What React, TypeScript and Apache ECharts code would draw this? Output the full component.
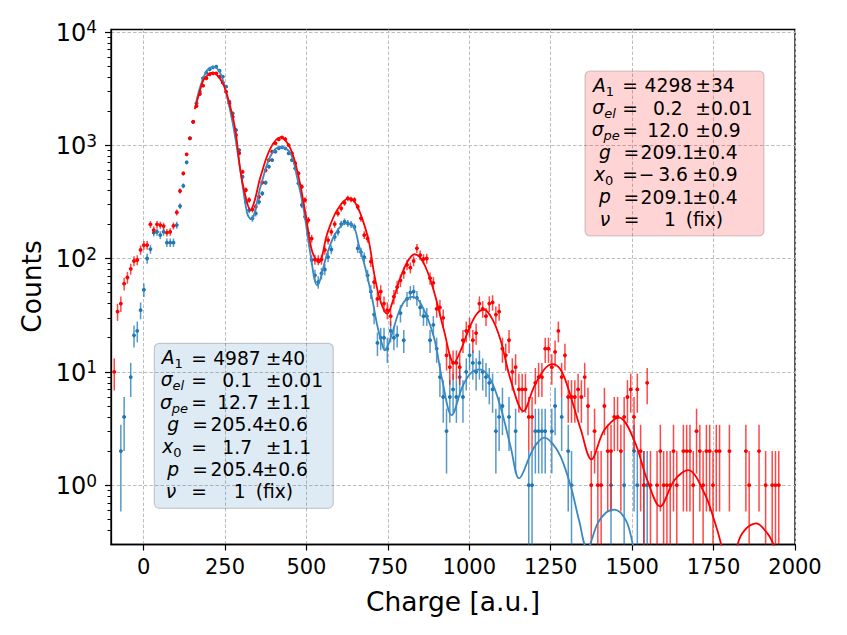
import React, { useEffect, useRef } from 'react';
import * as echarts from 'echarts';

// ---------------- data ----------------
const BIN_START = -90;
const BIN_WIDTH = 10.1;
const X_ERR = 5;

const RED_COUNTS = [
  10, 34, 40, 60, 68, 81, 95, 97, 119, 131,
  131, 200, 178, 200, 197, 193, 169, 172, 194, 255,
  394, 563, 829, 1148, 1610, 2213, 2825, 3343, 3890, 4217,
  4300, 4300, 4017, 3556, 2960, 2339, 1782, 1227, 850, 582,
  402, 328, 271, 286, 350, 469, 600, 738, 875, 1038,
  1125, 1172, 1132, 1000, 847, 692, 564, 430, 328, 218,
  150, 98, 97, 98, 119, 145, 172, 201, 250, 277,
  310, 339, 332, 328, 286, 226, 161, 150, 94, 62,
  44, 51, 40, 35, 31, 46, 56, 64, 75, 88,
  83, 95, 123, 107, 99, 100, 67, 61, 36, 37,
  30, 14, 11, 12, 12, 11, 19, 23, 25, 19,
  22, 40, 36, 31, 40, 41, 32, 34, 16, 14,
  19, 10, 11, 7, 7, 7, 4, 4, 8, 9,
  9, 16, 16, 11, 15, 23, 9, 14, 6, 6,
  6, 7, 6, 9, 5, 1, 3, 1, 1, 5,
  2, 2, 4, 4, 2, 4, 6, 7, 4, 7,
  2, 1, 8, 1, 0, 1, 2, 1, 1, 1,
  2, 1, 0, 2, 2, 2, 1, 3, 2, 1,
  2, 2, 1, 2, 2, 0, 0, 2, 0, 0,
  0, 0, 2, 1, 0, 0, 2, 0, 1, 0,
  1, 1, 1,
];

const BLUE_COUNTS = [
  0, 0, 2, 4, 0, 9, 21, 23, 35, 53,
  100, 121, 169, 172, 161, 172, 138, 138, 138, 197,
  290, 438, 705, 1150, 1600, 2339, 2960, 3890, 4355, 4670,
  4860, 4920, 4540, 4017, 3280, 2415, 1910, 1360, 905, 526,
  316, 267, 226, 250, 316, 375, 466, 645, 738, 875,
  937, 956, 937, 847, 738, 624, 460, 296, 234, 167,
  97, 71, 62, 74, 80, 103, 120, 155, 172, 201,
  211, 204, 200, 190, 123, 114, 103, 71, 51, 32,
  18, 20, 20, 16, 23, 20, 21, 33, 19, 44,
  50, 51, 45, 37, 31, 31, 19, 26, 16, 9,
  6, 3, 6, 7, 6, 9, 6, 10, 14, 12,
  10, 12, 10, 9, 8, 7, 3, 4, 5, 0,
  4, 0, 3, 0, 0, 0, 1, 1, 3, 3,
  3, 3, 0, 3, 5, 0, 4, 0, 2, 1,
  0, 0, 0, 0, 0, 0, 0, 0, 0, 0,
  0, 1, 0, 0, 0, 1, 0, 0, 2, 1,
  0, 1, 1,
];

const RED_FIT_X = [157, 170, 184, 200, 210, 225, 246, 266, 282, 297, 312, 328, 340, 359, 389, 420, 451, 476, 497, 517, 538, 564, 594, 630, 651, 671, 692, 707, 722, 738, 748, 763, 784, 810, 832, 860, 891, 922, 953, 975, 994, 1020, 1045, 1070, 1096, 1127, 1166, 1199, 1230, 1255, 1280, 1302, 1343, 1375, 1414, 1460, 1506, 1547, 1586, 1629, 1672, 1722, 1752, 1773, 1800, 1824, 1845, 1881, 1917, 1934, 1950];
const RED_FIT_Y = [2070, 2818, 3758, 4217, 4365, 4169, 3388, 2188, 1349, 603, 363, 267, 316, 525, 933, 1172, 933, 525, 251, 117, 92, 166, 267, 339, 306, 226, 140, 76, 47.5, 35, 32.7, 40.2, 62.4, 93.5, 109, 91, 52, 23.4, 12, 15.8, 21.9, 31.6, 35.5, 29.5, 19.1, 8.5, 4.5, 7.4, 10.5, 11.7, 10.5, 7.4, 3.05, 1.69, 3.05, 3.95, 2.5, 1.1, 0.65, 1.1, 1.36, 0.85, 0.49, 0.3, 0.11, 0.3, 0.4, 0.46, 0.37, 0.3, 0.22];

const BLUE_FIT_X = [161, 174, 195, 215, 236, 256, 276, 297, 318, 330, 359, 389, 420, 451, 471, 492, 512, 533, 564, 589, 620, 645, 661, 681, 702, 717, 733, 741, 758, 784, 804, 825, 851, 891, 917, 946, 979, 1004, 1033, 1066, 1096, 1127, 1153, 1189, 1205, 1230, 1255, 1281, 1312, 1337, 1362, 1394, 1420, 1445, 1481, 1502, 1525, 1550];
const BLUE_FIT_Y = [2344, 3273, 4571, 4898, 4266, 2692, 1445, 603, 251, 221, 430, 794, 968, 851, 525, 267, 111, 58, 111, 166, 204, 191, 131, 82, 44, 26, 17.2, 15.5, 19.7, 33.9, 43, 45.9, 40.2, 20.4, 8.45, 4.15, 7.4, 9.7, 10.5, 8.45, 4.9, 2.18, 1.15, 1.9, 2.29, 2.63, 2.34, 1.78, 0.97, 0.49, 0.275, 0.46, 0.575, 0.61, 0.49, 0.3, 0.14, 0.05];

const X_MIN = -100;
const X_MAX = 2000;
const X_TICKS = [0, 250, 500, 750, 1000, 1250, 1500, 1750, 2000];
const Y_MIN = 0.3;
const Y_MAX = 10471;
const Y_DECADES = [1, 10, 100, 1000, 10000];
const X_LABEL = 'Charge [a.u.]';
const Y_LABEL = 'Counts';

const PARAM_SYMBOLS = [['A', '1'], ['σ', 'el'], ['σ', 'pe'], ['g', ''], ['x', '0'], ['p', ''], ['ν', '']];
const RED_VALUES = ['4298', '0.2', '12.0', '209.1', '−\u20093.6', '209.1', '1'];
const RED_ERRORS = ['34', '0.01', '0.9', '0.4', '0.9', '0.4', '(fix)'];
const BLUE_VALUES = ['4987', '0.1', '12.7', '205.4', '1.7', '205.4', '1'];
const BLUE_ERRORS = ['40', '0.01', '1.1', '0.6', '1.1', '0.6', '(fix)'];

// ---------------- layout / style ----------------
const FONT = 'DejaVu Sans';
const RED = '#ff0000';
const BLUE = '#1f77b4';
const GRID = { left: 111, top: 29.5, width: 684, height: 515 };
const BOX_W = 179;
const BOX_H = 165;
const ROW0 = 14.7;
const ROW_STEP = 22.3;
const BOX_FONT = 18.7;
const SUB_FONT = 13;
const TICK_FONT = 21;

// offsets from the box's left edge
const RED_LAYOUT = {
  sym: [8, 7.3, 6.7, 14, 9, 14, 14.7],
  eq: [45, 45, 45, 46.3, 45, 46.3, 46.7],
  val: [59.6, 68, 62.3, 55.6, 53.8, 55.6, 79],
  pmErr: [110.3, 110.3, 110.3, 107.3, 107.3, 107.3, 100.7],
};
const BLUE_LAYOUT = {
  sym: [7.4, 6.4, 5.7, 13, 8, 13, 11.4],
  eq: [44.7, 44.7, 44.7, 45.7, 44.7, 45.7, 44.7],
  val: [58.9, 68, 62.9, 56.3, 68, 56.3, 79.4],
  pmErr: [111.5, 111.5, 111.5, 108.2, 111.5, 108.2, 101.4],
};

const L = (v: number) => Math.log10(v);

function pointsData(counts: number[]) {
  const out: number[][] = [];
  counts.forEach((n, k) => {
    if (n > 0) out.push([BIN_START + k * BIN_WIDTH, L(n), n]);
  });
  return out;
}

function fitData(xs: number[], ys: number[]) {
  return xs.map((x, i) => [x, L(ys[i])]);
}

function errRenderer(lineColor: string, dotColor: string) {
  return (params: any, api: any) => {
    const x = api.value(0);
    const n = api.value(2);
    const e = Math.sqrt(n);
    const c = api.coord([x, L(n)]);
    const top = api.coord([x, L(n + e)]);
    const lo = n - e;
    const bot = api.coord([x, lo > 0 ? L(lo) : -3]);
    const left = api.coord([x - X_ERR, L(n)]);
    const right = api.coord([x + X_ERR, L(n)]);
    return {
      type: 'group',
      children: [
        { type: 'line', shape: { x1: c[0], y1: top[1], x2: c[0], y2: bot[1] }, style: { stroke: lineColor, lineWidth: 1.5 } },
        { type: 'line', shape: { x1: left[0], y1: c[1], x2: right[0], y2: c[1] }, style: { stroke: lineColor, lineWidth: 1.5 } },
        { type: 'circle', shape: { cx: c[0], cy: c[1], r: 1.9 }, style: { fill: dotColor } },
      ],
    };
  };
}

const RICH_SYM = {
  i: { fontSize: BOX_FONT, fontFamily: FONT, fontStyle: 'italic', lineHeight: 20, verticalAlign: 'top', fill: '#000' },
  s: { fontSize: SUB_FONT, fontFamily: FONT, lineHeight: 11, padding: [9, 0, 0, 0], verticalAlign: 'top', fill: '#000' },
  si: { fontSize: SUB_FONT, fontFamily: FONT, fontStyle: 'italic', lineHeight: 11, padding: [9, 0, 0, 0], verticalAlign: 'top', fill: '#000' },
};

function txt(x: number, y: number, text: string, align: string) {
  return {
    type: 'text', x, y, z: 101,
    style: { text, fontSize: BOX_FONT, fontFamily: FONT, fill: '#000', align, verticalAlign: 'middle' },
  };
}

function paramBox(left: number, top: number, fill: string, values: string[], errors: string[], lay: any) {
  const children: any[] = [
    {
      type: 'rect', z: 100,
      shape: { x: left, y: top, width: BOX_W, height: BOX_H, r: 5 },
      style: { fill, stroke: 'rgba(0,0,0,0.18)', lineWidth: 1.2 },
    },
  ];
  PARAM_SYMBOLS.forEach(([sym, sub], i) => {
    const y = top + ROW0 + i * ROW_STEP;
    const key = /^[0-9]+$/.test(sub) ? 's' : 'si';
    children.push({
      type: 'text', x: left + lay.sym[i], y, z: 101,
      style: { text: sub ? `{i|${sym}}{${key}|${sub}}` : `{i|${sym}}`, rich: RICH_SYM, align: 'left', verticalAlign: 'middle' },
    });
    children.push(txt(left + lay.eq[i], y, '=', 'center'));
    children.push(txt(left + lay.val[i], y, values[i], 'left'));
    const tail = errors[i] === '(fix)' ? errors[i] : `±${errors[i]}`;
    children.push(txt(left + lay.pmErr[i], y, tail, 'left'));
  });
  return { type: 'group', children };
}

function buildOption() {
  const yMin = L(Y_MIN);
  const yMax = L(Y_MAX);
  const major = Y_DECADES.map(L);
  const minor: number[] = [];
  for (let e = -1; e <= 4; e++) {
    for (let m = 2; m <= 9; m++) {
      const v = L(m * Math.pow(10, e));
      if (v > yMin + 1e-6 && v < yMax) minor.push(v);
    }
  }
  const axisLine = { show: true, onZero: false, lineStyle: { color: '#000', width: 1.3 } };
  const split = { show: true, lineStyle: { color: '#bdbdbd', width: 1, type: [3.5, 2] } };

  return {
    animation: false,
    backgroundColor: '#ffffff',
    textStyle: { fontFamily: FONT },
    grid: { ...GRID, show: true, borderColor: '#000', borderWidth: 1.3, backgroundColor: 'transparent' },
    xAxis: {
      type: 'value', min: X_MIN, max: X_MAX,
      axisLine,
      axisTick: { show: true, customValues: X_TICKS, length: 6, lineStyle: { color: '#000', width: 1.2 } },
      axisLabel: { customValues: X_TICKS, fontSize: TICK_FONT, color: '#000', margin: 12, fontFamily: FONT, formatter: (v: number) => String(v) },
      splitLine: split,
    },
    yAxis: [
      {
        type: 'value', min: yMin, max: yMax,
        axisLine,
        axisTick: { show: true, customValues: major, length: 6, lineStyle: { color: '#000', width: 1.2 } },
        axisLabel: {
          customValues: major, margin: 14, color: '#000',
          formatter: (v: number) => `{b|10}{s|${Math.round(v)}}`,
          rich: {
            b: { fontSize: 24, fontFamily: FONT, lineHeight: 26, verticalAlign: 'bottom', color: '#000' },
            s: { fontSize: 17, fontFamily: FONT, lineHeight: 17, padding: [0, 0, 13, 0], verticalAlign: 'top', color: '#000' },
          },
        },
        splitLine: split,
      },
      {
        type: 'value', min: yMin, max: yMax, position: 'left', offset: 0,
        axisLine: { show: false, onZero: false },
        axisTick: { show: true, customValues: minor, length: 3.5, lineStyle: { color: '#000', width: 1 } },
        axisLabel: { show: false },
        splitLine: { show: false },
      },
    ],
    series: [
      {
        type: 'custom', name: 'blue data', renderItem: errRenderer('rgba(31,119,180,0.75)', BLUE),
        data: pointsData(BLUE_COUNTS), encode: { x: 0, y: 1 }, clip: true, silent: true,
      },
      {
        type: 'line', name: 'blue fit', data: fitData(BLUE_FIT_X, BLUE_FIT_Y), showSymbol: false, smooth: 0.35,
        lineStyle: { color: '#3a88c2', width: 1.8 }, clip: true, silent: true,
      },
      {
        type: 'custom', name: 'red data', renderItem: errRenderer('rgba(255,0,0,0.72)', RED),
        data: pointsData(RED_COUNTS), encode: { x: 0, y: 1 }, clip: true, silent: true,
      },
      {
        type: 'line', name: 'red fit', data: fitData(RED_FIT_X, RED_FIT_Y), showSymbol: false, smooth: 0.35,
        lineStyle: { color: RED, width: 1.8 }, clip: true, silent: true,
      },
    ],
    graphic: [
      {
        type: 'text', x: 453, y: 601.5, z: 101,
        style: { text: X_LABEL, fontSize: 26.5, fontFamily: FONT, fill: '#000', align: 'center', verticalAlign: 'middle' },
      },
      {
        type: 'text', x: 31, y: 286.5, rotation: Math.PI / 2, z: 101,
        style: { text: Y_LABEL, fontSize: 26.5, fontFamily: FONT, fill: '#000', align: 'center', verticalAlign: 'middle' },
      },
      paramBox(585, 71, 'rgba(255,0,0,0.17)', RED_VALUES, RED_ERRORS, RED_LAYOUT),
      paramBox(154.3, 343.3, 'rgba(31,119,180,0.15)', BLUE_VALUES, BLUE_ERRORS, BLUE_LAYOUT),
    ],
  };
}

export default function App() {
  const ref = useRef<HTMLDivElement>(null);
  useEffect(() => {
    if (!ref.current) return;
    const chart = echarts.init(ref.current, null, { renderer: 'svg' });
    chart.setOption(buildOption() as any);
    return () => chart.dispose();
  }, []);
  return (
    <div
      ref={ref}
      style={{ position: 'fixed', left: 0, top: 0, width: 847, height: 635, background: '#fff' }}
    />
  );
}
